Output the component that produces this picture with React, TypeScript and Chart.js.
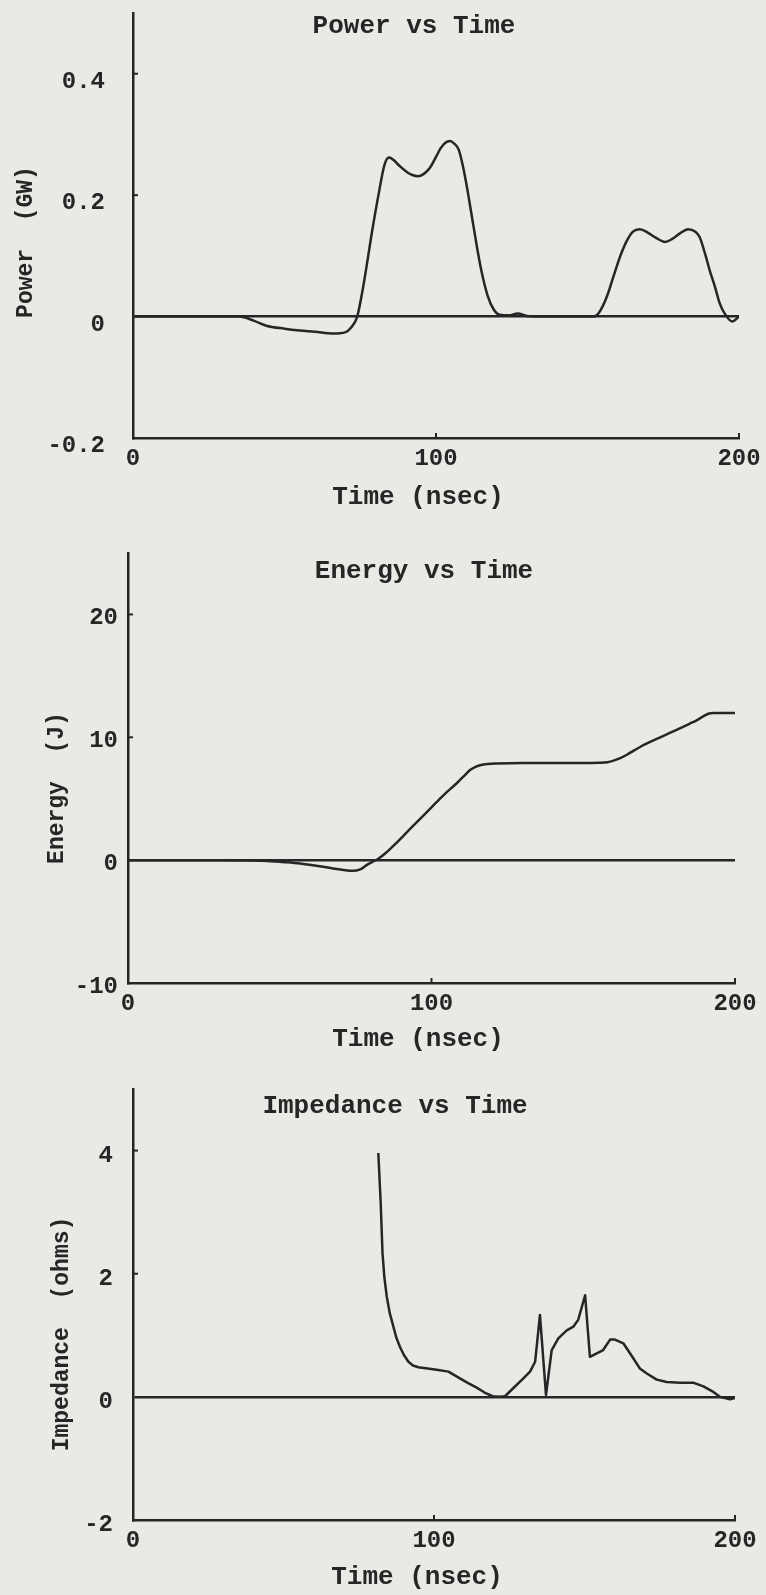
import React, { useEffect, useRef } from "react";
import { Chart, registerables } from "chart.js";

Chart.register(...registerables);

// ---------- data ----------
const powerTime = [0, 10, 20, 30, 35, 40, 44, 50, 55, 60, 66, 70, 72, 74, 76, 79, 81, 83, 84.5, 86, 88, 91, 94, 96, 98, 100, 101.5, 103, 104.6, 106, 107.5, 109, 110.5, 112, 113.5, 115, 117, 119, 121, 124, 127, 130, 135, 140, 145, 152, 154, 156.4, 158.5, 160.7, 163, 165, 167.3, 170, 172.5, 175.6, 178, 180.5, 183.2, 185.5, 187, 189, 190.4, 192, 193.7, 195.4, 197.7, 200];
const powerValues = [0, 0, 0, 0, 0, -0.007, -0.015, -0.02, -0.023, -0.025, -0.028, -0.026, -0.018, 0, 0.05, 0.143, 0.2, 0.25, 0.262, 0.258, 0.248, 0.236, 0.231, 0.235, 0.245, 0.263, 0.277, 0.286, 0.289, 0.285, 0.275, 0.245, 0.205, 0.16, 0.115, 0.075, 0.035, 0.012, 0.003, 0.002, 0.005, 0.001, 0, 0, 0, 0, 0.008, 0.033, 0.065, 0.098, 0.125, 0.14, 0.144, 0.138, 0.13, 0.123, 0.128, 0.137, 0.144, 0.14, 0.131, 0.1, 0.075, 0.05, 0.021, 0.004, -0.008, 0];

const energyTime = [0, 10, 20, 30, 40, 46, 51, 56.7, 62, 67.5, 71, 74, 76.5, 78.6, 80.5, 82.5, 85, 88, 92, 96, 100, 104, 108.4, 110.5, 112.7, 114.5, 116, 118.5, 121.6, 130, 140, 150, 155, 158, 160, 162, 164.5, 166.5, 169, 171, 175, 178.5, 182, 185, 187.5, 189.5, 191.2, 193, 200];
const energyValues = [0, 0, 0, 0, -0.02, -0.06, -0.15, -0.27, -0.45, -0.68, -0.8, -0.87, -0.75, -0.41, -0.15, 0.12, 0.6, 1.3, 2.3, 3.3, 4.3, 5.3, 6.28, 6.8, 7.33, 7.6, 7.73, 7.83, 7.87, 7.9, 7.9, 7.9, 7.92, 7.97, 8.1, 8.28, 8.6, 8.9, 9.25, 9.5, 9.95, 10.35, 10.75, 11.1, 11.4, 11.7, 11.92, 11.98, 11.98];

const impedanceTime = [81.5, 82.3, 82.9, 83.5, 84.3, 85.3, 86.5, 87.5, 88.7, 90, 91.5, 93, 94.8, 100.9, 104.8, 108.6, 111.5, 114.2, 116.8, 119.5, 121.5, 123.6, 126.3, 129.7, 131.9, 133.6, 135.2, 137.2, 139.1, 141.3, 144.1, 146.3, 147.9, 150.2, 151.8, 156.2, 158.5, 160.1, 162.9, 165.5, 168.4, 170.7, 174, 177.3, 181.7, 186.1, 189.5, 192.8, 195, 198.3, 200];
const impedanceValues = [3.96, 3.14, 2.33, 1.95, 1.63, 1.36, 1.14, 0.96, 0.81, 0.68, 0.57, 0.51, 0.48, 0.44, 0.41, 0.3, 0.22, 0.15, 0.07, 0.01, 0, 0.01, 0.14, 0.3, 0.41, 0.57, 1.33, 0.03, 0.76, 0.95, 1.08, 1.14, 1.25, 1.65, 0.65, 0.76, 0.93, 0.93, 0.87, 0.68, 0.46, 0.38, 0.28, 0.24, 0.23, 0.23, 0.17, 0.08, 0, -0.04, -0.02];

const xTickValues = [0, 100, 200];
const xTickLabels = ["0", "100", "200"];
const powerTickValues = [-0.2, 0, 0.2, 0.4];
const powerTickLabels = ["-0.2", "0", "0.2", "0.4"];
const energyTickValues = [-10, 0, 10, 20];
const energyTickLabels = ["-10", "0", "10", "20"];
const impedanceTickValues = [-2, 0, 2, 4];
const impedanceTickLabels = ["-2", "0", "2", "4"];

const chartTitles = ["Power vs Time", "Energy vs Time", "Impedance vs Time"];
const yAxisTitles = ["Power  (GW)", "Energy  (J)", "Impedance  (ohms)"];
const xAxisTitle = "Time (nsec)";

// ---------- style ----------
const INK = "#262626";
const PAPER = "#e9eae5";
const FONT = '"Liberation Mono", "DejaVu Sans Mono", monospace';
const W = 766;

type Spec = {
  top: number;
  height: number;
  time: number[];
  values: number[];
  smooth: boolean;
  yMin: number;
  yMax: number;
  yTicks: number[];
  yTickLabels: string[];
  area: { left: number; right: number; top: number; bottom: number };
  yLabelPad: number;
  yLabelOffset: number;
  title: string;
  titlePos: [number, number];
  xTitlePos: [number, number];
  yTitle: string;
  yTitlePos: [number, number];
};

function textPlugin(spec: Spec) {
  return {
    id: "paperText",
    afterDraw(chart: any) {
      const ctx = chart.ctx as CanvasRenderingContext2D;
      const ca = chart.chartArea;
      const xs = chart.scales.x;
      const ys = chart.scales.y;
      ctx.save();
      ctx.strokeStyle = INK;
      ctx.lineWidth = 2;
      ys.ticks.forEach((t: any) => {
        if (t.value !== 0 && t.value !== ys.min) {
          const p = ys.getPixelForValue(t.value);
          ctx.beginPath();
          ctx.moveTo(ca.left, p);
          ctx.lineTo(ca.left + 5, p);
          ctx.stroke();
        }
      });
      xs.ticks.forEach((t: any) => {
        if (t.value !== xs.min) {
          const p = xs.getPixelForValue(t.value);
          ctx.beginPath();
          ctx.moveTo(p, ca.bottom);
          ctx.lineTo(p, ca.bottom - 5);
          ctx.stroke();
        }
      });
      ctx.fillStyle = INK;
      ctx.textAlign = "center";
      ctx.textBaseline = "middle";
      ctx.font = `bold 26px ${FONT}`;
      ctx.fillText(spec.title, spec.titlePos[0], spec.titlePos[1]);
      ctx.fillText(xAxisTitle, spec.xTitlePos[0], spec.xTitlePos[1]);
      ctx.translate(spec.yTitlePos[0], spec.yTitlePos[1]);
      ctx.rotate(-Math.PI / 2);
      ctx.font = `bold 23px ${FONT}`;
      ctx.fillText(spec.yTitle, 0, 0);
      ctx.restore();
    },
  };
}

function buildConfig(spec: Spec): any {
  const { area } = spec;
  const tickFont = { family: FONT, size: 24, weight: "bold" as const, lineHeight: 1 };
  return {
    type: "line",
    data: {
      datasets: [
        {
          data: spec.time.map((t, i) => ({ x: t, y: spec.values[i] })),
          borderColor: INK,
          borderWidth: 2.5,
          borderJoinStyle: "round",
          pointRadius: 0,
          fill: false,
          tension: 0,
          cubicInterpolationMode: spec.smooth ? "monotone" : "default",
        },
      ],
    },
    options: {
      responsive: false,
      animation: false,
      devicePixelRatio: 1,
      layout: { padding: { left: 0, top: area.top, right: W - area.right, bottom: 0 } },
      plugins: { legend: { display: false }, tooltip: { enabled: false }, title: { display: false } },
      scales: {
        x: {
          type: "linear",
          min: 0,
          max: 200,
          afterBuildTicks: (s: any) => {
            s.ticks = xTickValues.map((v) => ({ value: v }));
          },
          afterFit: (s: any) => {
            s.height = spec.height - area.bottom;
            s.paddingLeft = 0;
            s.paddingRight = 0;
          },
          ticks: {
            autoSkip: false,
            maxRotation: 0,
            padding: 9,
            color: INK,
            font: tickFont,
            callback: (_v: any, i: number) => xTickLabels[i],
          },
          grid: { display: false, drawTicks: false },
          border: { display: true, color: INK, width: 2.5 },
        },
        y: {
          type: "linear",
          min: spec.yMin,
          max: spec.yMax,
          afterBuildTicks: (s: any) => {
            s.ticks = spec.yTicks.map((v) => ({ value: v }));
          },
          afterFit: (s: any) => {
            s.width = area.left;
            s.paddingTop = 0;
            s.paddingBottom = 0;
          },
          ticks: {
            autoSkip: false,
            padding: spec.yLabelPad,
            labelOffset: spec.yLabelOffset,
            color: INK,
            font: tickFont,
            callback: (_v: any, i: number) => spec.yTickLabels[i],
          },
          grid: {
            display: true,
            drawTicks: false,
            lineWidth: 2.5,
            color: (c: any) => (c.tick && c.tick.value === 0 ? INK : "rgba(0,0,0,0)"),
          },
          border: { display: true, color: INK, width: 2.5 },
        },
      },
    },
    plugins: [textPlugin(spec)],
  };
}

const specs: Spec[] = [
  {
    top: 0,
    height: 530,
    time: powerTime,
    values: powerValues,
    smooth: true,
    yMin: -0.2,
    yMax: 0.5,
    yTicks: powerTickValues,
    yTickLabels: powerTickLabels,
    area: { left: 133, right: 739, top: 13, bottom: 438 },
    yLabelPad: 28,
    yLabelOffset: 8,
    title: chartTitles[0],
    titlePos: [414, 26],
    xTitlePos: [418, 497],
    yTitle: yAxisTitles[0],
    yTitlePos: [26, 242],
  },
  {
    top: 530,
    height: 540,
    time: energyTime,
    values: energyValues,
    smooth: true,
    yMin: -10,
    yMax: 25,
    yTicks: energyTickValues,
    yTickLabels: energyTickLabels,
    area: { left: 128, right: 735, top: 23, bottom: 453 },
    yLabelPad: 10,
    yLabelOffset: 4,
    title: chartTitles[1],
    titlePos: [424, 41],
    xTitlePos: [418, 509],
    yTitle: yAxisTitles[1],
    yTitlePos: [57, 258],
  },
  {
    top: 1070,
    height: 525,
    time: impedanceTime,
    values: impedanceValues,
    smooth: false,
    yMin: -2,
    yMax: 5,
    yTicks: impedanceTickValues,
    yTickLabels: impedanceTickLabels,
    area: { left: 133, right: 735, top: 19, bottom: 450 },
    yLabelPad: 20,
    yLabelOffset: 5,
    title: chartTitles[2],
    titlePos: [395, 36],
    xTitlePos: [417, 507],
    yTitle: yAxisTitles[2],
    yTitlePos: [62, 264],
  },
];

function PaperChart({ spec }: { spec: Spec }) {
  const ref = useRef<HTMLCanvasElement>(null);
  useEffect(() => {
    if (!ref.current) return;
    const chart = new Chart(ref.current, buildConfig(spec));
    return () => chart.destroy();
  }, [spec]);
  return (
    <div style={{ position: "absolute", left: 0, top: spec.top, width: W, height: spec.height }}>
      <canvas ref={ref} width={W} height={spec.height} style={{ display: "block" }} />
    </div>
  );
}

export default function App() {
  return (
    <div style={{ position: "absolute", left: 0, top: 0, width: W, height: 1595, background: PAPER, overflow: "hidden" }}>
      {specs.map((s, i) => (
        <PaperChart key={i} spec={s} />
      ))}
    </div>
  );
}
